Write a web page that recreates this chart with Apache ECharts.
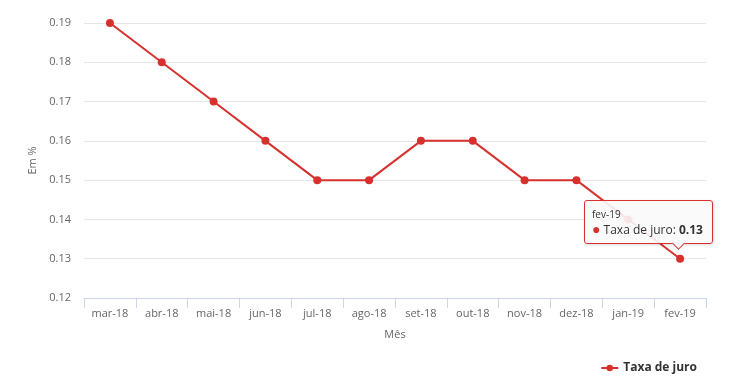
<!DOCTYPE html>
<html><head><meta charset="utf-8">
<script src="https://cdn.jsdelivr.net/npm/echarts@6/dist/echarts.min.js"></script>
<style>html,body{margin:0;padding:0;background:#fff}#c{width:740px;height:389px}</style>
</head><body><div id="c"></div>
<script>
const categories = ['mar-18','abr-18','mai-18','jun-18','jul-18','ago-18','set-18','out-18','nov-18','dez-18','jan-19','fev-19'];
const taxaJuro = [0.19,0.18,0.17,0.16,0.15,0.15,0.16,0.16,0.15,0.15,0.14,0.13];
const seriesName = 'Taxa de juro';
const color = '#d7312e';
const FONT = 'Open Sans';
const chart = echarts.init(document.getElementById('c'));
chart.setOption({
  animation: false,
  textStyle: { fontFamily: FONT },
  grid: { left: 84, right: 34, top: 23, bottom: 91 },
  legend: {
    right: 38, bottom: 10, itemWidth: 17, itemHeight: 8, itemGap: 5,
    textStyle: { fontFamily: FONT, fontSize: 12, fontWeight: 'bold', color: '#333' },
    data: [seriesName]
  },
  tooltip: {
    trigger: 'item', triggerOn: 'none', alwaysShowContent: true,
    position: function () { return [584, 200]; },
    padding: 0, borderWidth: 0, backgroundColor: 'transparent', extraCssText: 'box-shadow:none;',
    formatter: function (p) {
      return '<div style="position:relative;width:129px;height:44px;box-sizing:border-box;border:1px solid ' + color + ';border-radius:3px;background:rgba(250,250,250,0.9);font-family:Open Sans;color:#333;box-shadow:1px 1px 3px rgba(0,0,0,0.15);">' +
        '<div style="position:absolute;left:7px;top:7px;font-size:10px;line-height:12px;">' + p.name + '</div>' +
        '<div style="position:absolute;left:7px;top:21px;font-size:12px;line-height:16px;white-space:nowrap;"><span style="color:' + color + ';font-size:14px;line-height:14px;">\u25CF</span> ' + p.seriesName + ': <b>' + p.value + '</b></div>' +
        '<div style="position:absolute;left:89px;top:38px;width:8px;height:8px;background:rgba(250,250,250,1);border-right:1px solid ' + color + ';border-bottom:1px solid ' + color + ';transform:rotate(45deg);"></div>' +
        '</div>';
    }
  },
  xAxis: {
    type: 'category', data: categories, boundaryGap: true,
    name: 'Mês', nameLocation: 'middle', nameGap: 31,
    nameTextStyle: { color: '#666', fontSize: 11, fontFamily: FONT },
    axisLine: { lineStyle: { color: '#ccd6eb' } },
    axisTick: { show: true, length: 10, alignWithLabel: false, lineStyle: { color: '#ccd6eb' } },
    axisLabel: { color: '#666', fontSize: 11, margin: 10, fontFamily: FONT }
  },
  yAxis: {
    type: 'value', min: 0.12, max: 0.19, interval: 0.01,
    name: 'Em %', nameLocation: 'middle', nameGap: 44, nameRotate: 90,
    nameTextStyle: { color: '#666', fontSize: 11, fontFamily: FONT },
    axisLine: { show: false }, axisTick: { show: false },
    axisLabel: { color: '#666', fontSize: 11, margin: 13, fontFamily: FONT, formatter: v => v.toFixed(2) },
    splitLine: { lineStyle: { color: '#e6e6e6' } }
  },
  series: [{
    name: seriesName, type: 'line', data: taxaJuro,
    symbol: 'circle', symbolSize: 8,
    itemStyle: { color: color },
    lineStyle: { color: color, width: 2 },
    emphasis: { disabled: true }
  }]
});
chart.dispatchAction({ type: 'showTip', seriesIndex: 0, dataIndex: 11 });
</script></body></html>
